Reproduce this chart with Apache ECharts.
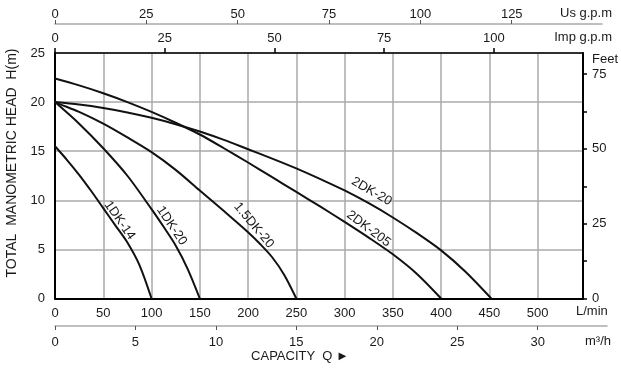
<!DOCTYPE html>
<html><head><meta charset="utf-8">
<script src="https://cdn.jsdelivr.net/npm/echarts@6/dist/echarts.min.js"></script>
<style>html,body{margin:0;padding:0;background:#fff}#c{width:621px;height:368px}</style>
</head><body><div id="c"></div>
<script>
// ---- data (Q in L/min, H in m) ----
const qMaxLmin = 547;
const hMax = 25;
const curveNames = ['1DK-14', '1DK-20', '1.5DK-20', '2DK-20', '2DK-205'];
const curve1DK14 = [[0,15.5],[12.5,14.1],[25,12.6],[37.5,10.95],[50,9.2],[62.5,7.45],[75,5.7],[87.5,3.4],[100,0]];
const curve1DK20 = [[0,20],[25,17.8],[50,15.3],[75,12.5],[100,9.1],[112.5,7.3],[125,5.4],[137.5,3.0],[150,0]];
const curve15DK20 = [[-11,20.55],[0,20],[25,19.0],[50,17.8],[75,16.4],[100,14.9],[125,13.1],[150,11.0],[175,8.9],[200,6.75],[212.5,5.55],[225,4.2],[237.5,2.4],[250,0]];
const curve2DK20 = [[0,20],[25,19.75],[50,19.4],[75,18.95],[100,18.4],[125,17.75],[150,17.0],[175,16.15],[200,15.2],[225,14.25],[250,13.25],[275,12.15],[300,11.0],[325,9.7],[350,8.25],[375,6.65],[400,4.9],[425,2.75],[452,0]];
const curve2DK205 = [[0,22.4],[25,21.7],[50,20.9],[75,20.0],[100,19.0],[125,17.9],[150,16.7],[175,15.3],[200,13.85],[225,12.35],[250,10.85],[275,9.35],[300,7.8],[325,6.2],[350,4.5],[375,2.5],[400,0]];
const curves = [curve1DK14, curve1DK20, curve15DK20, curve2DK20, curve2DK205];
// label anchors in data coords and text angle (deg)
const labelAnchors = [[67,7.95],[121,7.4],[206,7.45],[328,10.9],[325,7.1]];
const labelAngles = [55, 56, 50, 30, 37];
// unit conversions
const lminPerUsGpm = 3.78541;
const lminPerImpGpm = 4.54609;
const m3hPerLmin = 0.06;
const mPerFoot = 0.3048;

// ---- layout ----
const FONT = '"Liberation Sans", Arial, Helvetica, sans-serif';
const L = 55, R = 583, TOP = 53, BOT = 298.5;
const US_R = 602, M3_R = 607;
const TXT = '#1a1a1a';
const labelStyle = {color: TXT, fontSize: 13, fontFamily: FONT};
const onlyMultiples = (step) => (v) => (Math.abs(v / step - Math.round(v / step)) < 1e-6 ? String(Math.round(v)) : '');

const chart = echarts.init(document.getElementById('c'));
const option = {
  animation: false,
  backgroundColor: '#fff',
  grid: [
    {left: L, width: R - L, top: TOP, height: BOT - TOP},
    {left: L, width: US_R - L, top: 24, height: 1},
    {left: L, width: M3_R - L, top: 325, height: 1}
  ],
  xAxis: [
    {type: 'value', gridIndex: 0, position: 'bottom', min: 0, max: qMaxLmin, interval: 50,
     axisLine: {show: true, onZero: false, lineStyle: {color: '#000', width: 2}}, axisTick: {show: false},
     axisLabel: Object.assign({margin: 8, showMaxLabel: false, formatter: onlyMultiples(50)}, labelStyle),
     splitLine: {show: true, lineStyle: {color: '#aaa', width: 1.5}}},
    {type: 'value', gridIndex: 0, position: 'top', min: 0, max: qMaxLmin / lminPerImpGpm, interval: 25,
     axisLine: {show: true, onZero: false, lineStyle: {color: '#000', width: 1.5}},
     axisTick: {show: true, length: 5, lineStyle: {color: '#000', width: 1.5}},
     axisLabel: Object.assign({margin: 8, showMaxLabel: false, formatter: onlyMultiples(25)}, labelStyle),
     splitLine: {show: false}},
    {type: 'value', gridIndex: 1, position: 'top', min: 0, max: qMaxLmin * (US_R - L) / (R - L) / lminPerUsGpm, interval: 25,
     axisLine: {show: true, onZero: false, lineStyle: {color: '#aaa', width: 1.5}},
     axisTick: {show: true, length: 4, lineStyle: {color: '#555', width: 1}},
     axisLabel: Object.assign({margin: 3, showMaxLabel: false, formatter: onlyMultiples(25)}, labelStyle),
     splitLine: {show: false}},
    {type: 'value', gridIndex: 2, position: 'bottom', min: 0, max: qMaxLmin * (M3_R - L) / (R - L) * m3hPerLmin, interval: 5,
     axisLine: {show: true, onZero: false, lineStyle: {color: '#aaa', width: 1.5}},
     axisTick: {show: true, length: 4, lineStyle: {color: '#555', width: 1}},
     axisLabel: Object.assign({margin: 10, showMaxLabel: false, formatter: onlyMultiples(5)}, labelStyle),
     splitLine: {show: false}}
  ],
  yAxis: [
    {type: 'value', gridIndex: 0, position: 'left', min: 0, max: hMax, interval: 5,
     axisLine: {show: true, onZero: false, lineStyle: {color: '#000', width: 2}}, axisTick: {show: false},
     axisLabel: Object.assign({margin: 10}, labelStyle),
     splitLine: {show: true, lineStyle: {color: '#aaa', width: 1.5}}},
    {type: 'value', gridIndex: 0, position: 'right', min: 0, max: hMax / mPerFoot, interval: 12.5,
     axisLine: {show: true, onZero: false, lineStyle: {color: '#000', width: 2}},
     axisTick: {show: true, length: 4, lineStyle: {color: '#000', width: 1.5}},
     axisLabel: Object.assign({margin: 9, showMaxLabel: false, formatter: onlyMultiples(25)}, labelStyle),
     splitLine: {show: false}},
    {type: 'value', gridIndex: 1, show: false, min: 0, max: 1},
    {type: 'value', gridIndex: 2, show: false, min: 0, max: 1}
  ],
  series: curves.map((d, i) => ({
    name: curveNames[i], type: 'line', xAxisIndex: 0, yAxisIndex: 0, data: d,
    smooth: 0.3, showSymbol: false, symbol: 'none', clip: false,
    lineStyle: {color: '#111', width: 2}, silent: true, z: 5
  })).concat([
    {type: 'line', xAxisIndex: 2, yAxisIndex: 2, data: []},
    {type: 'line', xAxisIndex: 3, yAxisIndex: 3, data: []}
  ]),
  graphic: []
};
chart.setOption(option);

const txt = (text, x, y, align, vAlign, rot, size) => ({
  type: 'text', x: x, y: y, rotation: rot || 0, silent: true, z: 10,
  style: {text: text, fill: TXT, font: (size || 13) + 'px ' + FONT, textAlign: align, textVerticalAlign: vAlign}
});
const g = [
  txt('Us g.p.m', 612, 13, 'right', 'middle'),
  txt('Imp g.p.m', 612, 37, 'right', 'middle'),
  txt('Feet', 592, 59, 'left', 'middle'),
  txt('L/min', 576, 311, 'left', 'middle'),
  txt('m\u00B3/h', 585, 341, 'left', 'middle'),
  txt('CAPACITY  Q \u25BA', 300, 356, 'center', 'middle'),
  txt('TOTAL  MANOMETRIC HEAD  H(m)', 12, 163, 'center', 'middle', Math.PI / 2, 14)
];
labelAnchors.forEach((a, i) => {
  const p = chart.convertToPixel({xAxisIndex: 0, yAxisIndex: 0}, a);
  g.push(txt(curveNames[i], p[0], p[1], 'center', 'middle', -labelAngles[i] * Math.PI / 180, 13));
});
chart.setOption({graphic: g});
</script></body></html>
